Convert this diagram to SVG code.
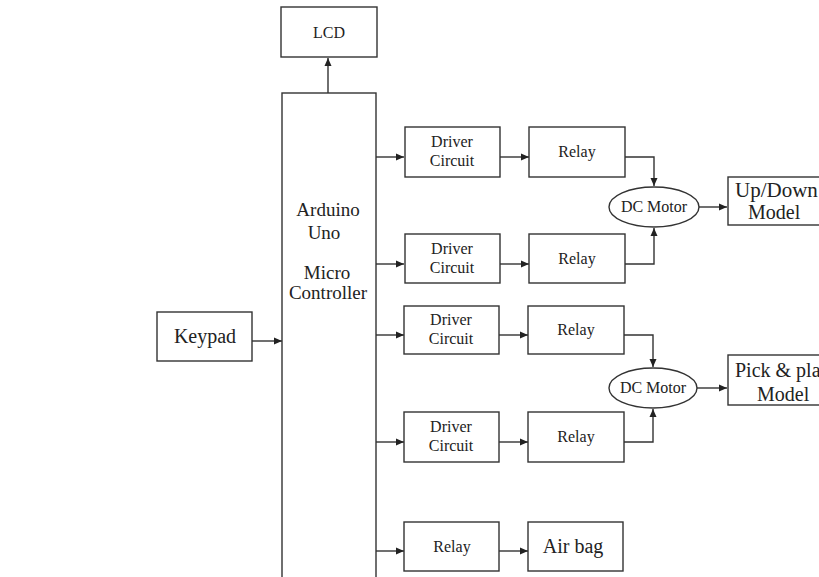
<svg xmlns="http://www.w3.org/2000/svg" width="819" height="577" viewBox="0 0 819 577">
<defs>
<style>
.box{fill:#fff;stroke:#333;stroke-width:1.4}
.t{font-family:"Liberation Serif","Times New Roman",serif;fill:#222;text-anchor:middle}
.s16{font-size:16px}
.s20{font-size:20px}
.st{text-anchor:start}
.c{fill:none;stroke:#333;stroke-width:1.4}
</style>
<marker id="ah" markerWidth="9" markerHeight="9" refX="8" refY="4.5" orient="auto" markerUnits="userSpaceOnUse">
<path d="M0,1 L8,4.5 L0,8 Z" fill="#222"/>
</marker>
</defs>
<rect width="819" height="577" fill="#fff"/>
<g id="connectors">
<path class="c" d="M328,93 V58" marker-end="url(#ah)"/>
<path class="c" d="M252,341 H282" marker-end="url(#ah)"/>
<path class="c" d="M376,157 H404" marker-end="url(#ah)"/>
<path class="c" d="M376,264 H404" marker-end="url(#ah)"/>
<path class="c" d="M376,335 H404" marker-end="url(#ah)"/>
<path class="c" d="M376,442 H404" marker-end="url(#ah)"/>
<path class="c" d="M376,551 H404" marker-end="url(#ah)"/>
<path class="c" d="M500,157 H529" marker-end="url(#ah)"/>
<path class="c" d="M500,264 H529" marker-end="url(#ah)"/>
<path class="c" d="M499,335 H528" marker-end="url(#ah)"/>
<path class="c" d="M499,442 H528" marker-end="url(#ah)"/>
<path class="c" d="M499,551 H528" marker-end="url(#ah)"/>
<path class="c" d="M625,157 H654 V186" marker-end="url(#ah)"/>
<path class="c" d="M625,264 H654 V228" marker-end="url(#ah)"/>
<path class="c" d="M624,335 H653 V367" marker-end="url(#ah)"/>
<path class="c" d="M624,442 H653 V409" marker-end="url(#ah)"/>
<path class="c" d="M699,207 H727" marker-end="url(#ah)"/>
<path class="c" d="M697,388 H727" marker-end="url(#ah)"/>
</g>
<g id="lcd"><rect class="box" x="281" y="7" width="96" height="50"/><text class="t s16" x="329" y="38">LCD</text></g>
<g id="arduino"><rect class="box" x="282" y="93" width="94" height="490"/>
<text class="t" style="font-size:19px" x="328" y="216">Arduino</text>
<text class="t" style="font-size:19px" x="324" y="239">Uno</text>
<text class="t" style="font-size:19px" x="327" y="279">Micro</text>
<text class="t" style="font-size:19px" x="328" y="299">Controller</text></g>
<g id="keypad"><rect class="box" x="157" y="312" width="95" height="49"/><text class="t s20" x="205" y="343">Keypad</text></g>
<g id="driver1"><rect class="box" x="405" y="127" width="95" height="50"/><text class="t s16" x="452" y="147">Driver</text><text class="t s16" x="452" y="166">Circuit</text></g>
<g id="relay1"><rect class="box" x="529" y="127" width="96" height="50"/><text class="t s16" x="577" y="157">Relay</text></g>
<g id="driver2"><rect class="box" x="405" y="234" width="95" height="49"/><text class="t s16" x="452" y="254">Driver</text><text class="t s16" x="452" y="273">Circuit</text></g>
<g id="relay2"><rect class="box" x="529" y="234" width="96" height="49"/><text class="t s16" x="577" y="264">Relay</text></g>
<g id="driver3"><rect class="box" x="404" y="306" width="95" height="48"/><text class="t s16" x="451" y="325">Driver</text><text class="t s16" x="451" y="344">Circuit</text></g>
<g id="relay3"><rect class="box" x="528" y="306" width="96" height="48"/><text class="t s16" x="576" y="335">Relay</text></g>
<g id="driver4"><rect class="box" x="404" y="412" width="95" height="50"/><text class="t s16" x="451" y="432">Driver</text><text class="t s16" x="451" y="451">Circuit</text></g>
<g id="relay4"><rect class="box" x="528" y="412" width="96" height="50"/><text class="t s16" x="576" y="442">Relay</text></g>
<g id="relay5"><rect class="box" x="404" y="522" width="95" height="49"/><text class="t s16" x="452" y="552">Relay</text></g>
<g id="airbag"><rect class="box" x="528" y="522" width="95" height="49"/><text class="t s20" x="573" y="553">Air bag</text></g>
<g id="motor1"><ellipse class="box" cx="654" cy="207" rx="45" ry="20"/><text class="t s16" x="654" y="212">DC Motor</text></g>
<g id="motor2"><ellipse class="box" cx="653" cy="388" rx="44" ry="20"/><text class="t s16" x="653" y="393">DC Motor</text></g>
<g id="updown"><rect class="box" x="728" y="177" width="100" height="48"/><text class="t s20 st" x="735" y="197" style="font-size:21px">Up/Down</text><text class="t s20 st" x="748" y="219">Model</text></g>
<g id="pickplace"><rect class="box" x="728" y="355" width="120" height="50"/><text class="t s20 st" x="735" y="377">Pick &amp; place</text><text class="t s20 st" x="757" y="401">Model</text></g>
</svg>
